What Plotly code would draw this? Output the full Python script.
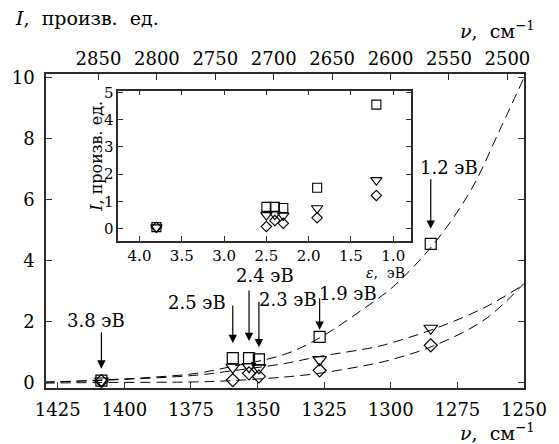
import plotly.graph_objects as go

# ---- data ----
energy_ev = [3.8, 2.5, 2.4, 2.3, 1.9, 1.2]
raman_shift = [1408.6, 1359.3, 1353.2, 1349.5, 1326.7, 1285.0]
I_square = [0.06, 0.80, 0.80, 0.76, 1.50, 4.55]
I_triangle = [0.05, 0.50, 0.52, 0.48, 0.75, 1.78]
I_diamond = [0.05, 0.08, 0.30, 0.20, 0.40, 1.22]
labels = ["3.8 эВ", "2.5 эВ", "2.4 эВ", "2.3 эВ", "1.9 эВ", "1.2 эВ"]

# dashed fit curves
fitA_x = [1430, 1409, 1390, 1373, 1360, 1340, 1327, 1306, 1299, 1284, 1270, 1259, 1250]
fitA_y = [0.0, 0.08, 0.17, 0.30, 0.52, 0.92, 1.45, 2.68, 3.15, 4.53, 6.30, 8.30, 10.0]
fitB_x = [1430, 1409, 1373, 1360, 1340, 1327, 1306, 1299, 1284, 1265, 1250]
fitB_y = [0.02, 0.07, 0.24, 0.38, 0.62, 0.85, 1.16, 1.32, 1.75, 2.45, 3.22]
fitC_x = [1430, 1409, 1373, 1360, 1340, 1327, 1306, 1299, 1284, 1265, 1250]
fitC_y = [-0.02, 0.0, 0.02, 0.06, 0.18, 0.30, 0.62, 0.77, 1.20, 2.05, 3.25]

bottom_ticks = [1425, 1400, 1375, 1350, 1325, 1300, 1275, 1250]
top_ticks = [2850, 2800, 2750, 2700, 2650, 2600, 2550, 2500]
y_ticks = [0, 2, 4, 6, 8, 10]
inset_x_ticks = [4.0, 3.5, 3.0, 2.5, 2.0, 1.5, 1.0]
inset_y_ticks = [0, 1, 2, 3, 4, 5]

FONT = "DejaVu Serif"
AX = "#2a2a2a"
NB = "\u00a0"

fig = go.Figure()

for fx, fy in [(fitA_x, fitA_y), (fitB_x, fitB_y), (fitC_x, fitC_y)]:
    fig.add_trace(go.Scatter(x=fx, y=fy, mode="lines",
                             line=dict(color="black", width=1, dash="10px,6px", shape="spline", smoothing=1),
                             showlegend=False, hoverinfo="skip", xaxis="x", yaxis="y"))

markers = [(I_diamond, "diamond-open", 10), (I_triangle, "triangle-down-open", 12), (I_square, "square-open", 11)]
for vals, sym, sz in markers:
    fig.add_trace(go.Scatter(x=raman_shift, y=vals, mode="markers",
                             marker=dict(symbol=sym, size=sz, color="black", line=dict(color="black", width=1.2)),
                             showlegend=False, xaxis="x", yaxis="y"))
    fig.add_trace(go.Scatter(x=energy_ev, y=vals, mode="markers",
                             marker=dict(symbol=sym, size=sz - 2, color="black", line=dict(color="black", width=1.1)),
                             showlegend=False, xaxis="x3", yaxis="y3"))

# dummy trace so the top axis is drawn
fig.add_trace(go.Scatter(x=top_ticks, y=[None] * len(top_ticks), mode="markers", showlegend=False,
                         hoverinfo="skip", xaxis="x2", yaxis="y"))

# arrows and labels (pixel offsets relative to the square markers)
gap = [12, 15, 17, 12, 7, 15]
length = [38, 39, 52, 47, 33, 51]
txt_dx = [-5, -36, 16, 29, 28, 18]
txt_dy = [60, 56, 83, 60, 43, 76]
ann = []
for i in range(len(labels)):
    ann.append(dict(x=raman_shift[i], y=I_square[i], xref="x", yref="y", yshift=gap[i], text="",
                    showarrow=True, ax=0, ay=-length[i], arrowhead=2, arrowsize=1.4, arrowwidth=1.2,
                    arrowcolor="black"))
    ann.append(dict(x=raman_shift[i], y=I_square[i], xref="x", yref="y", xshift=txt_dx[i], yshift=txt_dy[i],
                    text=labels[i], showarrow=False, font=dict(family=FONT, size=18, color="black")))

W_PLOT = 559 - 44 - 26
H_PLOT = 444 - 74 - 56


def px(x):
    return (x - 44) / W_PLOT


def py(y):
    return (388 - y) / H_PLOT


ann += [
    dict(x=px(10), y=py(18), xref="paper", yref="paper", xanchor="left", yanchor="middle", showarrow=False,
         text=f"<i>I</i>,{NB}{NB}произв.{NB}{NB}ед.", font=dict(family=FONT, size=19, color="black")),
    dict(x=px(546), y=py(30), xref="paper", yref="paper", xanchor="right", yanchor="middle", showarrow=False,
         text="<i>ν</i>,  см<sup>−1</sup>", font=dict(family=FONT, size=19, color="black")),
    dict(x=px(546), y=py(432), xref="paper", yref="paper", xanchor="right", yanchor="middle", showarrow=False,
         text="<i>ν</i>,  см<sup>−1</sup>", font=dict(family=FONT, size=19, color="black")),
    dict(x=px(95), y=py(156), xref="paper", yref="paper", xanchor="center", yanchor="middle", showarrow=False,
         textangle=-90, text=f"<i>I</i>,{NB}произв.{NB}ед.", font=dict(family=FONT, size=16, color="black")),
    dict(x=px(413), y=py(273), xref="paper", yref="paper", xanchor="right", yanchor="middle", showarrow=False,
         text="<i>ε</i>,  эВ", font=dict(family=FONT, size=14, color="black")),
]

axis_common = dict(showgrid=False, zeroline=False, showline=True, linecolor=AX, linewidth=1.5,
                   ticks="inside", ticklen=6, tickwidth=1.3, tickcolor=AX,
                   tickfont=dict(family=FONT, size=18, color="black"))
inset_common = dict(showgrid=False, zeroline=False, showline=True, linecolor=AX, linewidth=1.5,
                    ticks="inside", ticklen=5, tickwidth=1.3, tickcolor=AX, mirror="ticks",
                    tickfont=dict(family=FONT, size=15, color="black"))

fig.update_layout(
    width=559, height=444, autosize=False,
    margin=dict(l=44, r=26, t=74, b=56, pad=0),
    paper_bgcolor="white", plot_bgcolor="white",
    showlegend=False,
    xaxis=dict(range=[1429.4, 1250], tickvals=bottom_ticks, anchor="y", ticklabelstandoff=5, **axis_common),
    xaxis2=dict(range=[2894.9, 2485.8], tickvals=top_ticks, overlaying="x", side="top", anchor="y",
                ticklabelstandoff=0, **axis_common),
    yaxis=dict(range=[-0.18, 10.12], tickvals=y_ticks, mirror="ticks", anchor="x", ticklabelstandoff=6, **axis_common),
    xaxis3=dict(domain=[px(118), px(417)], range=[4.25, 0.795], tickvals=inset_x_ticks, tickformat=".1f",
                anchor="y3", **inset_common),
    yaxis3=dict(domain=[py(241), py(90.7)], range=[-0.45, 5.06], tickvals=inset_y_ticks, anchor="x3", **inset_common),
    annotations=ann,
)

fig.write_html("out.html", config={"displayModeBar": False},
               post_script="document.body.style.margin='0';document.body.style.overflow='hidden';")
